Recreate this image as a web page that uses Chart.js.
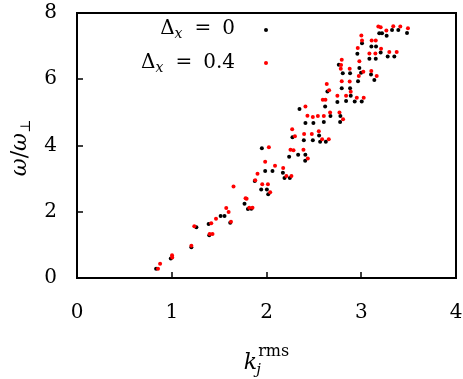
<!DOCTYPE html>
<html>
<head>
<meta charset="utf-8">
<script src="https://cdn.jsdelivr.net/npm/chart.js@4.4.1/dist/chart.umd.min.js"></script>
<style>
  html, body { margin: 0; padding: 0; background: #fff; }
  canvas { display: block; }
  #mark { position: absolute; left: 0; top: 0; width: 2px; height: 2px; }
</style>
</head>
<body>
<canvas id="c" width="463" height="379"></canvas>
<div id="mark"></div>
<script>
// ---- data ----
const seriesLabels = ["\u0394x = 0", "\u0394x = 0.4"];
const xTicks = [0, 1, 2, 3, 4];
const yTicks = [0, 2, 4, 6, 8];

// Δx = 0 (black)
const kBlack = [0.835, 0.99, 1.207, 1.26, 1.396, 1.389, 1.516, 1.557, 1.617, 1.768, 1.804, 1.84, 1.876,
  1.951, 1.986, 2.063, 1.944, 2.004, 2.018, 2.274, 2.239, 2.173, 2.19, 2.246, 2.334, 2.41, 2.408,
  2.394, 2.489, 2.566, 2.626, 2.555, 2.348, 2.411, 2.495, 2.605, 2.643, 2.619, 2.675, 2.777, 2.78,
  2.748, 2.794, 2.805, 2.763, 2.882, 2.98, 2.998, 2.966, 2.882, 2.889, 2.931, 3.005, 2.84, 3.103,
  3.138, 2.959, 3.008, 3.086, 3.153, 3.205, 3.107, 3.156, 3.19, 3.219, 3.268, 3.325, 3.391, 3.279,
  3.349, 3.483];
const wBlack = [0.28, 0.59, 0.93, 1.53, 1.29, 1.63, 1.87, 1.87, 1.67, 2.24, 2.08, 2.09, 2.93,
  3.92, 3.23, 3.23, 2.67, 2.67, 2.53, 4.25, 3.66, 3.18, 3.02, 3.02, 3.72, 3.72, 3.54,
  4.16, 4.16, 4.11, 4.11, 4.30, 5.10, 4.68, 4.68, 4.71, 5.63, 5.18, 4.89, 4.71, 4.89,
  5.31, 5.73, 6.18, 6.44, 6.18, 6.34, 6.20, 5.94, 5.73, 5.50, 5.33, 5.33, 5.34, 6.14,
  5.98, 6.77, 7.09, 6.62, 6.62, 6.81, 6.99, 6.99, 7.39, 7.39, 7.31, 7.49, 7.49, 6.69,
  6.69, 7.40];

// Δx = 0.4 (red)
const kRed = [0.855, 0.877, 1.003, 1.005, 1.207, 1.238, 1.40, 1.43, 1.417, 1.467, 1.575, 1.60, 1.625,
  1.652, 1.779, 1.79, 1.818, 1.852, 1.881, 2.025, 1.986, 2.09, 1.905, 1.955, 2.015, 2.039,
  2.271, 2.30, 2.253, 2.285, 2.176, 2.21, 2.263, 2.39, 2.436, 2.397, 2.478, 2.552, 2.587, 2.657,
  2.411, 2.432, 2.489, 2.542, 2.605, 2.636, 2.661, 2.594, 2.622, 2.671, 2.77, 2.808, 2.748,
  2.794, 2.787, 2.794, 2.784, 2.878, 2.98, 3.022, 2.974, 2.878, 2.889, 2.953, 3.026, 2.84,
  3.106, 3.163, 2.963, 3.001, 3.008, 3.086, 3.149, 3.209, 3.11, 3.153, 3.18, 3.205, 3.265,
  3.338, 3.296, 3.374, 3.412, 3.493];
const wRed = [0.28, 0.43, 0.69, 0.62, 0.97, 1.56, 1.33, 1.33, 1.65, 1.79, 2.11, 1.99, 1.70,
  2.76, 2.41, 2.39, 2.12, 2.12, 2.95, 3.95, 3.51, 3.39, 3.15, 2.83, 2.83, 2.59,
  4.49, 4.28, 3.87, 3.86, 3.32, 3.08, 3.08, 3.87, 3.61, 4.35, 4.35, 4.43, 4.19, 4.19,
  5.18, 4.90, 4.86, 4.89, 4.89, 5.86, 5.67, 5.38, 5.38, 5.00, 5.00, 4.79, 5.50,
  5.94, 6.43, 6.59, 6.32, 6.32, 6.54, 6.23, 6.10, 5.93, 5.62, 5.44, 5.44, 5.50,
  6.25, 6.10, 6.94, 7.32, 7.17, 6.78, 6.78, 6.92, 7.17, 7.17, 7.59, 7.57, 7.47,
  7.60, 6.82, 6.82, 7.59, 7.54];

const toPts = (xs, ys) => xs.map((x, i) => ({ x: x, y: ys[i] }));

// ---- layout constants ----
const FONT = "'DejaVu Serif', 'Liberation Serif', serif";
const AREA = { left: 77, right: 456, top: 13, bottom: 278 };
const W = 463, H = 379;

function drawRuns(ctx, runs, x, y, align) {
  let total = 0;
  runs.forEach(r => { ctx.font = r.font; r.w = ctx.measureText(r.text).width; total += r.w + (r.gap || 0); });
  let cx = align === 'right' ? x - total : align === 'center' ? x - total / 2 : x;
  runs.forEach(r => {
    ctx.font = r.font;
    cx += (r.gap || 0);
    ctx.fillText(r.text, cx, y + (r.dy || 0));
    cx += r.w;
  });
}

let draws = 0;
const decor = {
  id: 'decor',
  afterDraw(chart) {
    draws++;
    const ctx = chart.ctx;
    const a = chart.chartArea;
    const xs = chart.scales.x, ys = chart.scales.y;
    ctx.save();
    ctx.fillStyle = '#000000';
    // frame (2px)
    const L = Math.round(a.left), R = Math.round(a.right), T = Math.round(a.top), B = Math.round(a.bottom);
    ctx.fillRect(L - 1, T - 1, R - L + 2, 2);
    ctx.fillRect(L - 1, B - 1, R - L + 2, 2);
    ctx.fillRect(L - 1, T - 1, 2, B - T + 2);
    ctx.fillRect(R - 1, T - 1, 2, B - T + 2);
    // inward tick marks
    xTicks.forEach(v => { const p = Math.round(xs.getPixelForValue(v)); ctx.fillRect(p - 0.75, B - 6, 1.5, 6); });
    yTicks.forEach(v => { const p = Math.round(ys.getPixelForValue(v)); ctx.fillRect(L, p - 0.75, 6, 1.5); });

    ctx.textBaseline = 'alphabetic';
    ctx.textAlign = 'left';
    // legend (gnuplot style: right-aligned text, sample to the right)
    drawRuns(ctx, [
      { text: '\u0394', font: '20px ' + FONT },
      { text: 'x', font: 'italic 14px ' + FONT, dy: 4 },
      { text: '=', font: '20px ' + FONT, gap: 12 },
      { text: '0', font: '20px ' + FONT, gap: 11 }
    ], 235, 34, 'right');
    drawRuns(ctx, [
      { text: '\u0394', font: '20px ' + FONT },
      { text: 'x', font: 'italic 14px ' + FONT, dy: 4 },
      { text: '=', font: '20px ' + FONT, gap: 12 },
      { text: '0.4', font: '20px ' + FONT, gap: 11 }
    ], 235, 68, 'right');
    ctx.fillStyle = '#000';
    ctx.beginPath(); ctx.arc(266, 30, 2, 0, Math.PI * 2); ctx.fill();
    ctx.fillStyle = '#ff0000';
    ctx.beginPath(); ctx.arc(266, 63, 2, 0, Math.PI * 2); ctx.fill();

    // x title: k_j^rms
    ctx.fillStyle = '#000';
    ctx.font = 'italic 22px ' + FONT;
    const wk = ctx.measureText('k').width;
    ctx.font = '16px ' + FONT;
    const wr = ctx.measureText('rms').width;
    const x0 = 266 - (wk + wr) / 2;
    ctx.font = 'italic 22px ' + FONT; ctx.fillText('k', x0, 369);
    ctx.font = '16px ' + FONT; ctx.fillText('rms', x0 + wk + 1, 356);
    ctx.font = 'italic 15px ' + FONT; ctx.fillText('j', x0 + wk - 1, 374);

    // y title: ω/ω⊥
    ctx.save();
    ctx.translate(26, 148);
    ctx.rotate(-Math.PI / 2);
    drawRuns(ctx, [
      { text: '\u03c9', font: 'italic 22px ' + FONT },
      { text: '/', font: '22px ' + FONT },
      { text: '\u03c9', font: 'italic 22px ' + FONT },
      { text: '\u22a5', font: '14px ' + FONT, dy: 4 }
    ], 0, 0, 'center');
    ctx.restore();
    ctx.restore();
    // touch the DOM so the page repaints with the finished canvas
    const m = document.getElementById('mark');
    if (m) m.style.background = (draws % 2) ? '#ffffff' : '#fefefe';
  }
};

const chart = new Chart(document.getElementById('c'), {
  type: 'scatter',
  data: {
    datasets: [
      { label: seriesLabels[1], data: toPts(kRed, wRed), backgroundColor: '#ff0000', borderColor: '#ff0000', borderWidth: 0, pointRadius: 2, order: 0 },
      { label: seriesLabels[0], data: toPts(kBlack, wBlack), backgroundColor: '#000000', borderColor: '#000000', borderWidth: 0, pointRadius: 2, order: 1 }
    ]
  },
  options: {
    responsive: false,
    animation: false,
    devicePixelRatio: 1,
    layout: { padding: { left: 0, top: AREA.top, right: W - AREA.right, bottom: 0 } },
    plugins: { legend: { display: false }, tooltip: { enabled: false } },
    scales: {
      x: {
        type: 'linear', min: 0, max: 4,
        afterBuildTicks: s => { s.ticks = xTicks.map(v => ({ value: v })); },
        afterFit: s => { s.height = H - AREA.bottom; s.paddingLeft = 0; s.paddingRight = 0; },
        ticks: { color: '#000', font: { family: FONT, size: 20 }, padding: 0, maxRotation: 0 },
        grid: { display: false, drawTicks: true, tickLength: 23 },
        border: { display: false }
      },
      y: {
        type: 'linear', min: 0, max: 8,
        afterBuildTicks: s => { s.ticks = yTicks.map(v => ({ value: v })); },
        afterFit: s => { s.width = AREA.left; s.paddingTop = 0; s.paddingBottom = 0; },
        ticks: { color: '#000', font: { family: FONT, size: 20 }, padding: 0 },
        grid: { display: false, drawTicks: true, tickLength: 20 },
        border: { display: false }
      }
    }
  },
  plugins: [decor]
});
requestAnimationFrame(() => chart.draw());
setTimeout(() => chart.draw(), 150);
</script>
</body>
</html>
